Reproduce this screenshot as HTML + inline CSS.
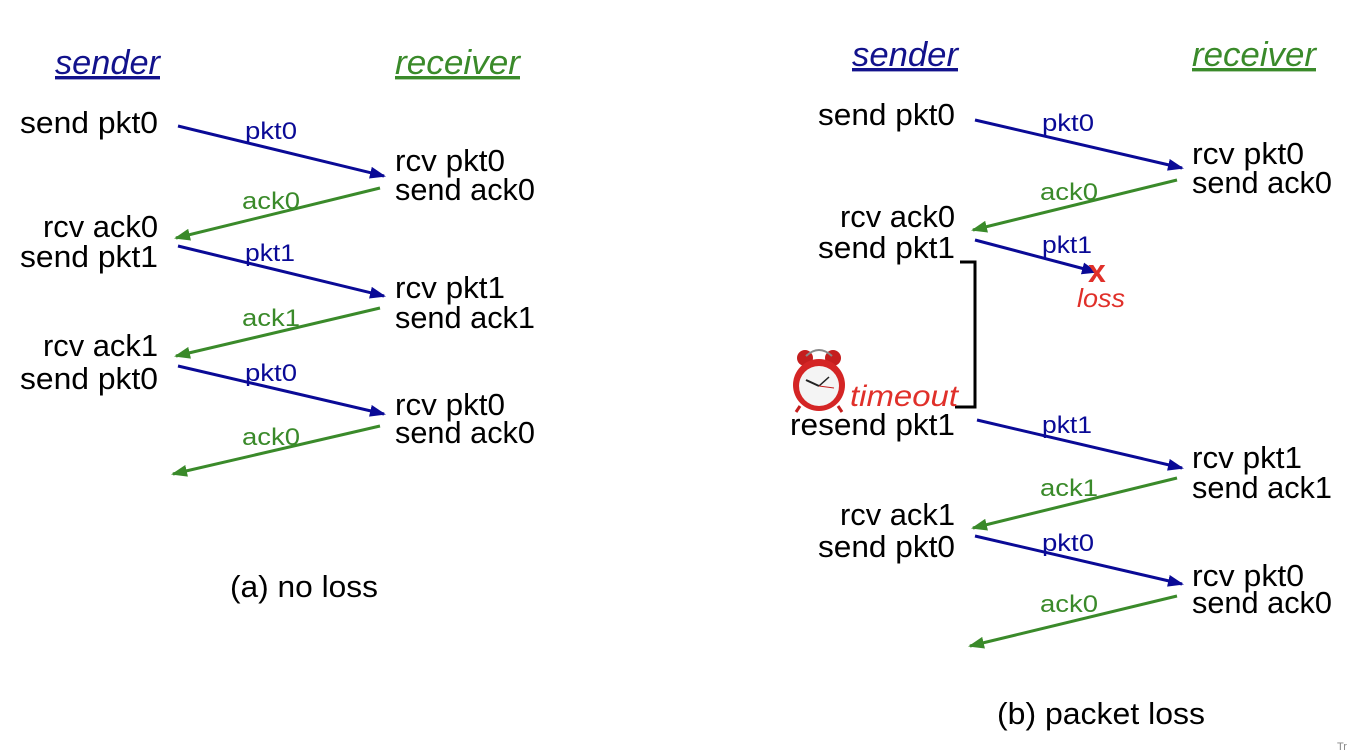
<!DOCTYPE html>
<html><head><meta charset="utf-8"><style>
html,body{margin:0;padding:0;background:#fff;width:1350px;height:754px;overflow:hidden}
svg{display:block}
.t{font-family:"Liberation Sans",sans-serif;font-size:31px;fill:#000}
.h{font-family:"Liberation Sans",sans-serif;font-size:34px;font-style:italic;text-decoration:underline}
.lb{font-family:"Liberation Sans",sans-serif;font-size:24px;fill:#0a0a96}
.lg{font-family:"Liberation Sans",sans-serif;font-size:24px;fill:#3a8a2a}
.b{stroke:#0a0a96;stroke-width:3;fill:none}
.g{stroke:#3a8a2a;stroke-width:3;fill:none}
</style></head><body>
<svg width="1350" height="754" viewBox="0 0 1350 754">
<defs>
<marker id="ab" markerWidth="16" markerHeight="12" refX="14" refY="6" orient="auto" markerUnits="userSpaceOnUse"><path d="M0,0L16,6L0,12z" fill="#0a0a96"/></marker>
<marker id="ag" markerWidth="16" markerHeight="12" refX="14" refY="6" orient="auto" markerUnits="userSpaceOnUse"><path d="M0,0L16,6L0,12z" fill="#3a8a2a"/></marker>
</defs>
<!-- Left -->
<text class="h" x="55" y="74" fill="#12128c" textLength="105" lengthAdjust="spacingAndGlyphs">sender</text>
<text class="h" x="395" y="74" fill="#3a8a2a" textLength="125" lengthAdjust="spacingAndGlyphs">receiver</text>
<text class="t" x="20" y="133" textLength="138" lengthAdjust="spacingAndGlyphs">send pkt0</text>
<line class="b" x1="178" y1="126" x2="384" y2="176" marker-end="url(#ab)"/>
<text class="lb" x="245" y="139" textLength="52" lengthAdjust="spacingAndGlyphs">pkt0</text>
<text class="t" x="395" y="171" textLength="110" lengthAdjust="spacingAndGlyphs">rcv pkt0</text>
<text class="t" x="395" y="200" textLength="140" lengthAdjust="spacingAndGlyphs">send ack0</text>
<line class="g" x1="380" y1="188" x2="176" y2="238" marker-end="url(#ag)"/>
<text class="lg" x="242" y="209" textLength="58" lengthAdjust="spacingAndGlyphs">ack0</text>
<text class="t" x="43" y="237" textLength="115" lengthAdjust="spacingAndGlyphs">rcv ack0</text>
<text class="t" x="20" y="267" textLength="138" lengthAdjust="spacingAndGlyphs">send pkt1</text>
<line class="b" x1="178" y1="246" x2="384" y2="296" marker-end="url(#ab)"/>
<text class="lb" x="245" y="261" textLength="50" lengthAdjust="spacingAndGlyphs">pkt1</text>
<text class="t" x="395" y="298" textLength="110" lengthAdjust="spacingAndGlyphs">rcv pkt1</text>
<text class="t" x="395" y="328" textLength="140" lengthAdjust="spacingAndGlyphs">send ack1</text>
<line class="g" x1="380" y1="308" x2="176" y2="356" marker-end="url(#ag)"/>
<text class="lg" x="242" y="326" textLength="58" lengthAdjust="spacingAndGlyphs">ack1</text>
<text class="t" x="43" y="356" textLength="115" lengthAdjust="spacingAndGlyphs">rcv ack1</text>
<text class="t" x="20" y="389" textLength="138" lengthAdjust="spacingAndGlyphs">send pkt0</text>
<line class="b" x1="178" y1="366" x2="384" y2="414" marker-end="url(#ab)"/>
<text class="lb" x="245" y="381" textLength="52" lengthAdjust="spacingAndGlyphs">pkt0</text>
<text class="t" x="395" y="415" textLength="110" lengthAdjust="spacingAndGlyphs">rcv pkt0</text>
<text class="t" x="395" y="443" textLength="140" lengthAdjust="spacingAndGlyphs">send ack0</text>
<line class="g" x1="380" y1="426" x2="173" y2="474" marker-end="url(#ag)"/>
<text class="lg" x="242" y="445" textLength="58" lengthAdjust="spacingAndGlyphs">ack0</text>
<text class="t" x="230" y="597" textLength="148" lengthAdjust="spacingAndGlyphs">(a) no loss</text>
<!-- Right -->
<text class="h" x="852" y="66" fill="#12128c" textLength="106" lengthAdjust="spacingAndGlyphs">sender</text>
<text class="h" x="1192" y="66" fill="#3a8a2a" textLength="124" lengthAdjust="spacingAndGlyphs">receiver</text>
<text class="t" x="818" y="125" textLength="137" lengthAdjust="spacingAndGlyphs">send pkt0</text>
<line class="b" x1="975" y1="120" x2="1182" y2="168" marker-end="url(#ab)"/>
<text class="lb" x="1042" y="131" textLength="52" lengthAdjust="spacingAndGlyphs">pkt0</text>
<text class="t" x="1192" y="164" textLength="112" lengthAdjust="spacingAndGlyphs">rcv pkt0</text>
<text class="t" x="1192" y="193" textLength="140" lengthAdjust="spacingAndGlyphs">send ack0</text>
<line class="g" x1="1177" y1="180" x2="973" y2="230" marker-end="url(#ag)"/>
<text class="lg" x="1040" y="200" textLength="58" lengthAdjust="spacingAndGlyphs">ack0</text>
<text class="t" x="840" y="227" textLength="115" lengthAdjust="spacingAndGlyphs">rcv ack0</text>
<text class="t" x="818" y="258" textLength="137" lengthAdjust="spacingAndGlyphs">send pkt1</text>
<line class="b" x1="975" y1="240" x2="1096" y2="272" marker-end="url(#ab)"/>
<text class="lb" x="1042" y="253" textLength="50" lengthAdjust="spacingAndGlyphs">pkt1</text>
<text x="1088" y="282" font-family="Liberation Sans,sans-serif" font-weight="bold" font-size="32" fill="#e0302a">x</text>
<text x="1077" y="307" font-family="Liberation Sans,sans-serif" font-style="italic" font-size="26" fill="#e0302a" textLength="48" lengthAdjust="spacingAndGlyphs">loss</text>
<path d="M960,262H975V407H955" stroke="#000" stroke-width="3" fill="none"/>
<!-- clock -->
<g>
<circle cx="805" cy="358" r="8" fill="#c41e1e"/><circle cx="833" cy="358" r="8" fill="#c41e1e"/>
<path d="M806,356 Q819,344 832,356" stroke="#888" stroke-width="2" fill="none"/>
<line x1="800" y1="406" x2="796" y2="412" stroke="#c41e1e" stroke-width="3"/>
<line x1="838" y1="406" x2="842" y2="412" stroke="#c41e1e" stroke-width="3"/>
<circle cx="819" cy="385" r="26" fill="#d42525"/>
<circle cx="819" cy="386" r="20" fill="#f4f4f4"/>
<line x1="819" y1="386" x2="806" y2="380" stroke="#222" stroke-width="2"/>
<line x1="819" y1="386" x2="829" y2="377" stroke="#222" stroke-width="1.5"/>
<line x1="819" y1="386" x2="834" y2="388" stroke="#c41e1e" stroke-width="1"/>
</g>
<text x="850" y="406" font-family="Liberation Sans,sans-serif" font-style="italic" font-size="30" fill="#e0302a" textLength="108" lengthAdjust="spacingAndGlyphs">timeout</text>
<text class="t" x="790" y="435" textLength="165" lengthAdjust="spacingAndGlyphs">resend pkt1</text>
<line class="b" x1="977" y1="420" x2="1182" y2="468" marker-end="url(#ab)"/>
<text class="lb" x="1042" y="433" textLength="50" lengthAdjust="spacingAndGlyphs">pkt1</text>
<text class="t" x="1192" y="468" textLength="110" lengthAdjust="spacingAndGlyphs">rcv pkt1</text>
<text class="t" x="1192" y="498" textLength="140" lengthAdjust="spacingAndGlyphs">send ack1</text>
<line class="g" x1="1177" y1="478" x2="973" y2="528" marker-end="url(#ag)"/>
<text class="lg" x="1040" y="496" textLength="58" lengthAdjust="spacingAndGlyphs">ack1</text>
<text class="t" x="840" y="525" textLength="115" lengthAdjust="spacingAndGlyphs">rcv ack1</text>
<text class="t" x="818" y="557" textLength="137" lengthAdjust="spacingAndGlyphs">send pkt0</text>
<line class="b" x1="975" y1="536" x2="1182" y2="584" marker-end="url(#ab)"/>
<text class="lb" x="1042" y="551" textLength="52" lengthAdjust="spacingAndGlyphs">pkt0</text>
<text class="t" x="1192" y="586" textLength="112" lengthAdjust="spacingAndGlyphs">rcv pkt0</text>
<text class="t" x="1192" y="613" textLength="140" lengthAdjust="spacingAndGlyphs">send ack0</text>
<line class="g" x1="1177" y1="596" x2="970" y2="646" marker-end="url(#ag)"/>
<text class="lg" x="1040" y="612" textLength="58" lengthAdjust="spacingAndGlyphs">ack0</text>
<text class="t" x="997" y="724" textLength="208" lengthAdjust="spacingAndGlyphs">(b) packet loss</text>
<text x="1337" y="750" font-family="Liberation Sans,sans-serif" font-size="11" fill="#888">Tr</text>
</svg>
</body></html>
